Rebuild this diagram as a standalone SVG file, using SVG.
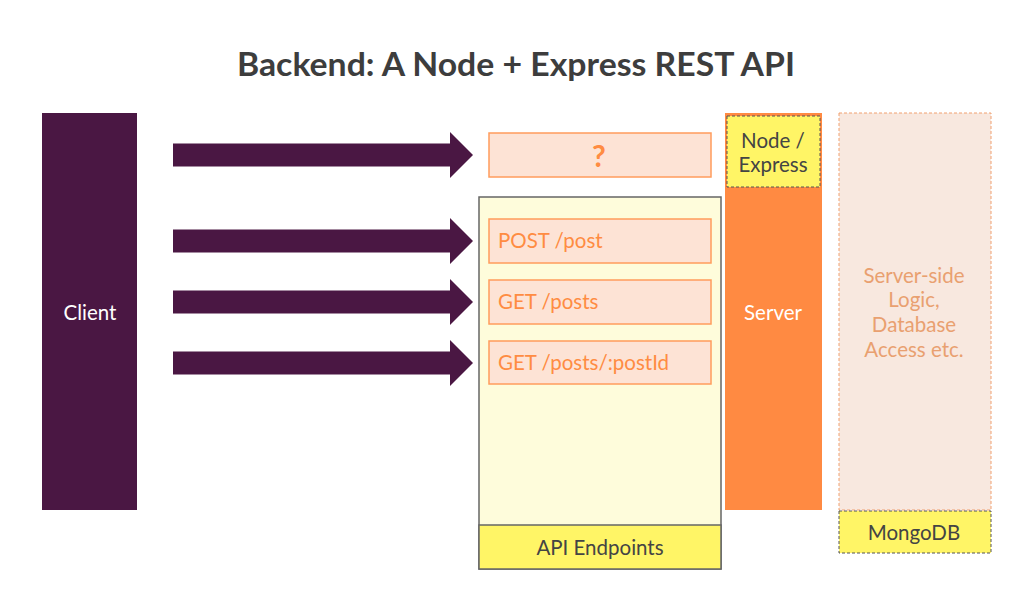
<svg xmlns="http://www.w3.org/2000/svg" width="1016" height="603" viewBox="0 0 1016 603">
<style>
text{font-family:"Lato","Open Sans","Liberation Sans",sans-serif;}
.title{font-size:33px;font-weight:bold;fill:#3d3d3d;text-anchor:middle;}
.white{font-size:20.5px;fill:#ffffff;text-anchor:middle;}
.dark{font-size:20.5px;fill:#444444;text-anchor:middle;}
.ep{font-size:20.5px;fill:#ff8c42;}
.ep-box{fill:#fde3d5;stroke:#ff9c5c;stroke-width:1.5;}
.logic{font-size:20.5px;fill:#e9a070;text-anchor:middle;}
.arrow{fill:#4a1743;}
</style>
<rect width="1016" height="603" fill="#ffffff"/>
<text class="title" x="516" y="76" textLength="558" lengthAdjust="spacingAndGlyphs">Backend: A Node + Express REST API</text>

<g id="client">
<rect x="42" y="113" width="95" height="397" fill="#4a1743"/>
<text class="white" x="90" y="320">Client</text>
</g>

<g id="api-endpoints">
<rect x="479" y="197" width="242" height="372" fill="#fefcdb" stroke="#666666" stroke-width="1.5"/>
<rect x="479" y="525" width="242" height="44" fill="#fff566" stroke="#666666" stroke-width="1.5"/>
<text class="dark" x="600" y="555">API Endpoints</text>
</g>

<g id="unknown">
<rect class="ep-box" x="489" y="133" width="222" height="44"/>
<text x="599" y="167" style="font-size:30px;font-weight:bold;fill:#ff8c42;text-anchor:middle">?</text>
</g>
<g id="post-post">
<rect class="ep-box" x="489" y="219" width="222" height="44"/>
<text class="ep" x="498" y="248">POST /post</text>
</g>
<g id="get-posts">
<rect class="ep-box" x="489" y="280" width="222" height="44"/>
<text class="ep" x="498" y="309">GET /posts</text>
</g>
<g id="get-post-id">
<rect class="ep-box" x="489" y="341" width="222" height="43"/>
<text class="ep" x="498" y="370">GET /posts/:postId</text>
</g>

<g id="server">
<rect x="725" y="113" width="97" height="397" fill="#ff8a42"/>
<text class="white" x="773" y="320">Server</text>
</g>
<g id="node-express">
<rect x="727" y="116" width="93" height="71" fill="#fff566" stroke="#555555" stroke-width="1" stroke-dasharray="3,2"/>
<text class="dark" x="773" y="148">Node /</text>
<text class="dark" x="773" y="172">Express</text>
</g>

<g id="server-logic">
<rect x="839" y="113" width="152" height="397" fill="#f8e8df" stroke="#f0a070" stroke-width="1" stroke-dasharray="3,2"/>
<text class="logic" x="914" y="283">Server-side</text>
<text class="logic" x="914" y="307">Logic,</text>
<text class="logic" x="914" y="332">Database</text>
<text class="logic" x="914" y="357">Access etc.</text>
</g>
<g id="mongodb">
<rect x="839" y="511" width="152" height="42" fill="#fff566" stroke="#555555" stroke-width="1" stroke-dasharray="3,2"/>
<text class="dark" x="914" y="540">MongoDB</text>
</g>

<g id="connectors">
<polygon class="arrow" points="173,143.5 450,143.5 450,132 473,155 450,178 450,166.5 173,166.5"/>
<polygon class="arrow" points="173,229.5 450,229.5 450,218 473,241 450,264 450,252.5 173,252.5"/>
<polygon class="arrow" points="173,290.5 450,290.5 450,279 473,302 450,325 450,313.5 173,313.5"/>
<polygon class="arrow" points="173,351.5 450,351.5 450,340 473,363 450,386 450,374.5 173,374.5"/>
</g>
</svg>
